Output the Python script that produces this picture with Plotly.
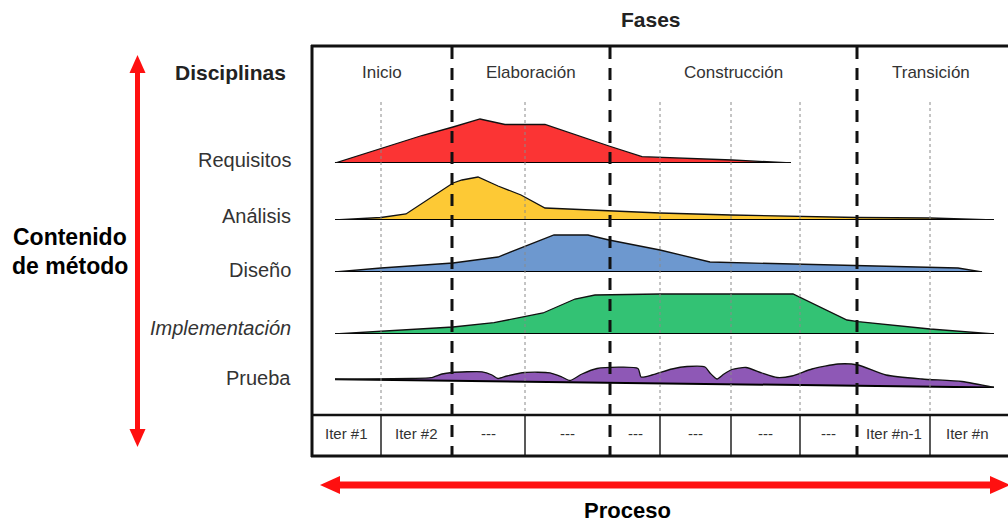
import plotly.graph_objects as go

W, H = 1008, 523

# ---------------- data ----------------
iter_bounds = [0, 69, 140, 213, 298, 348, 419, 488, 545, 618, 693]
phase_idx = [2, 4, 8]
phases = ["Inicio", "Elaboración", "Construcción", "Transición"]
phase_bounds = [0, 140, 298, 545, 693]
iter_labels = ["Iter #1", "Iter #2", "---", "---", "---", "---", "---", "---", "Iter #n-1", "Iter #n"]
disciplines = ["Requisitos", "Análisis", "Diseño", "<i>Implementación</i>", "Prueba"]

req_t = [23, 74, 110, 141, 168, 193, 233, 297, 330, 420, 479]
req_h = [0, 16, 27.5, 36, 44, 38.5, 38.5, 17, 6.3, 3, 0]

ana_t = [23, 69, 94, 141, 150, 166, 186, 209, 233, 297, 348, 419, 488, 545, 618, 682]
ana_h = [0, 2.5, 6, 37, 40, 43, 34, 25, 12, 9, 7, 5, 3.5, 2.5, 2, 0]

dis_t = [23, 69, 141, 186, 242, 276, 297, 348, 398, 546, 646, 670]
dis_h = [0, 4, 9, 15, 37, 37, 32, 22, 10, 6, 4, 0]

imp_t = [23, 69, 141, 182, 231, 263, 283, 348, 481, 535, 546, 618, 682]
imp_h = [0, 2.5, 7, 11.4, 21, 35, 39, 40, 40, 14, 12.4, 5, 0]

pru_t = [23, 100, 119, 130, 140, 170, 180, 186, 195, 213, 238, 250, 258, 270, 285, 326, 329,
         340, 360, 375, 393, 398, 405, 412, 420, 434, 450, 465, 480, 500, 526, 546, 574, 610, 650, 682]
pru_h = [8.7, 9.5, 10.3, 14, 15.5, 16.2, 13, 9.5, 12, 15.5, 15.2, 11, 7.5, 14, 19.5, 19.5, 11,
         13, 19, 21.5, 21, 15, 9, 14, 18.5, 20.5, 15, 10.5, 12, 19, 24, 23, 13, 9, 6.5, 0.5]
pru_base_t = [23, 682]
pru_base_h = [8.7, 0.5]

series = [
    (req_t, req_h, [req_t[0], req_t[-1]], [0, 0], "#fb3434", 163),
    (ana_t, ana_h, [ana_t[0], ana_t[-1]], [0, 0], "#fdc935", 220),
    (dis_t, dis_h, [dis_t[0], dis_t[-1]], [0, 0], "#6d98cf", 272),
    (imp_t, imp_h, [imp_t[0], imp_t[-1]], [0, 0], "#33c274", 334),
    (pru_t, pru_h, pru_base_t, pru_base_h, "#8e58b6", 388),
]
label_y = [160, 216, 270, 328, 378]


def X(px):
    return px / W


def Y(py):
    return 1 - py / H


fig = go.Figure()
layout = dict(
    width=W, height=H, autosize=False,
    margin=dict(l=0, r=0, t=0, b=0),
    paper_bgcolor="white", plot_bgcolor="rgba(0,0,0,0)",
    showlegend=False,
    xaxis=dict(domain=[X(312), 1.0], range=[0, 696], visible=False, fixedrange=True),
)
ROWH = 60
for i, (t, h, bt, bh, col, base) in enumerate(series):
    yname = "y" if i == 0 else f"y{i+1}"
    key = "yaxis" if i == 0 else f"yaxis{i+1}"
    layout[key] = dict(domain=[Y(base), Y(base - ROWH)], range=[0, ROWH],
                       visible=False, anchor="x", fixedrange=True)
    fig.add_trace(go.Scatter(x=bt, y=bh, mode="lines", line=dict(color="black", width=2),
                             xaxis="x", yaxis=yname, hoverinfo="skip"))
    shape = "spline" if i == 4 else "linear"
    fig.add_trace(go.Scatter(x=t, y=h, mode="lines", fill="tonexty", fillcolor=col,
                             line=dict(color="#111", width=1.3, shape=shape, smoothing=0.6),
                             xaxis="x", yaxis=yname, hoverinfo="skip"))
fig.update_layout(**layout)

shapes = []
# dotted iteration lines
for k, b in enumerate(iter_bounds):
    if k in phase_idx or k == 0 or k == len(iter_bounds) - 1:
        continue
    shapes.append(dict(type="line", xref="x", yref="paper", x0=b, x1=b, y0=Y(102), y1=Y(415),
                       line=dict(color="#8a8a8a", width=1, dash="dot")))
    shapes.append(dict(type="line", xref="x", yref="paper", x0=b, x1=b, y0=Y(415), y1=Y(456),
                       line=dict(color="#222", width=1.5)))
# dashed phase lines
for k in phase_idx:
    b = iter_bounds[k]
    shapes.append(dict(type="line", xref="x", yref="paper", x0=b, x1=b, y0=Y(47), y1=Y(456),
                       line=dict(color="#111", width=3, dash="12px,9px")))
# box
shapes.append(dict(type="line", xref="paper", yref="paper", x0=X(311), x1=1.0, y0=Y(46), y1=Y(46),
                   line=dict(color="#111", width=3)))
shapes.append(dict(type="line", xref="paper", yref="paper", x0=X(312), x1=X(312), y0=Y(45), y1=Y(457),
                   line=dict(color="#111", width=3)))
shapes.append(dict(type="line", xref="paper", yref="paper", x0=X(311), x1=1.0, y0=Y(456), y1=Y(456),
                   line=dict(color="#111", width=3)))
shapes.append(dict(type="line", xref="paper", yref="paper", x0=X(312), x1=1.0, y0=Y(415), y1=Y(415),
                   line=dict(color="#111", width=2.5)))

# red arrows
RED = "#ff1010"
shapes.append(dict(type="line", xref="paper", yref="paper", x0=X(137.5), x1=X(137.5), y0=Y(68), y1=Y(434),
                   line=dict(color=RED, width=5)))
shapes.append(dict(type="path", xref="paper", yref="paper", fillcolor=RED, line=dict(width=0),
                   path=f"M {X(137.5)} {Y(55)} L {X(129.5)} {Y(73)} L {X(145.5)} {Y(73)} Z"))
shapes.append(dict(type="path", xref="paper", yref="paper", fillcolor=RED, line=dict(width=0),
                   path=f"M {X(137.5)} {Y(447)} L {X(129.5)} {Y(429)} L {X(145.5)} {Y(429)} Z"))
shapes.append(dict(type="line", xref="paper", yref="paper", x0=X(335), x1=X(995), y0=Y(485), y1=Y(485),
                   line=dict(color=RED, width=7)))
shapes.append(dict(type="path", xref="paper", yref="paper", fillcolor=RED, line=dict(width=0),
                   path=f"M {X(320)} {Y(485)} L {X(340)} {Y(476)} L {X(340)} {Y(494)} Z"))
shapes.append(dict(type="path", xref="paper", yref="paper", fillcolor=RED, line=dict(width=0),
                   path=f"M {X(1010)} {Y(485)} L {X(990)} {Y(476)} L {X(990)} {Y(494)} Z"))
fig.update_layout(shapes=shapes)

ann = []
FONT = "Liberation Sans, Arial, sans-serif"


def add_text(x, y, text, size, color, xref="paper", xanchor="center"):
    ann.append(dict(x=x, y=y, xref=xref, yref="paper", text=text, showarrow=False,
                    xanchor=xanchor, yanchor="middle",
                    font=dict(family=FONT, size=size, color=color)))


for i, p in enumerate(phases):
    add_text((phase_bounds[i] + phase_bounds[i + 1]) / 2, Y(72), p, 17, "#333", xref="x")
for i, lab in enumerate(iter_labels):
    add_text((iter_bounds[i] + iter_bounds[i + 1]) / 2, Y(433), lab, 15, "#333", xref="x")
for lab, ly in zip(disciplines, label_y):
    add_text(X(293), Y(ly), lab, 20, "#333", xanchor="right")
add_text(X(651), Y(20), "<b>Fases</b>", 21, "#222")
add_text(X(230), Y(73), "<b>Disciplinas</b>", 21, "#222")
add_text(X(70), Y(237), "<b>Contenido</b>", 23, "black")
add_text(X(70), Y(266), "<b>de método</b>", 23, "black")
add_text(X(627), Y(510), "<b>Proceso</b>", 22, "black")
fig.update_layout(annotations=ann)

fig.write_html("out.html", config={"displayModeBar": False},
               post_script="document.body.style.margin='0';document.body.style.overflow='hidden';")
